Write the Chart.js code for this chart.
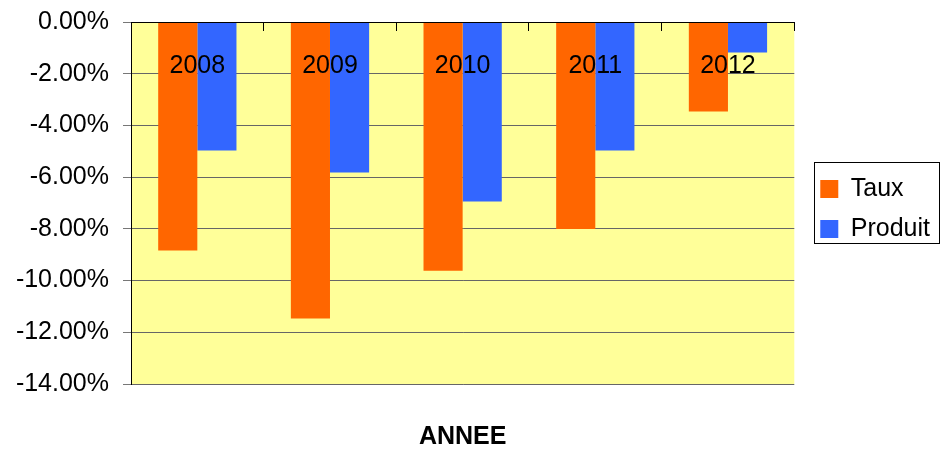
<!DOCTYPE html>
<html>
<head>
<meta charset="utf-8">
<script src="https://cdn.jsdelivr.net/npm/chart.js@4/dist/chart.umd.min.js"></script>
<style>
  html, body { margin: 0; padding: 0; background: #fff; }
  #wrap { width: 940px; height: 450px; }
</style>
</head>
<body>
<div id="wrap"><canvas id="graphique" width="940" height="450"></canvas></div>
<script>
const annees = ["2008", "2009", "2010", "2011", "2012"];
const taux = [-0.0884, -0.1147, -0.0962, -0.0801, -0.0346];
const produit = [-0.0497, -0.0582, -0.0694, -0.0497, -0.0118];
const ticksY = [0, -0.02, -0.04, -0.06, -0.08, -0.10, -0.12, -0.14];

const police = "'Liberation Sans', Arial, sans-serif";

// fond jaune de la zone de tracé
const fondZone = {
  id: "fondZone",
  beforeDraw(chart) {
    const { ctx, chartArea: a } = chart;
    ctx.save();
    ctx.fillStyle = "#FFFF99";
    ctx.fillRect(a.left, a.top, a.right - a.left, a.bottom - a.top);
    ctx.restore();
  },
};

// cadre autour de la légende
const cadreLegende = {
  id: "cadreLegende",
  afterDraw(chart) {
    const leg = chart.legend;
    if (!leg || !leg.legendHitBoxes || !leg.legendHitBoxes.length) return;
    const hb = leg.legendHitBoxes;
    const premier = hb[0];
    const dernier = hb[hb.length - 1];
    const x1 = Math.round(premier.left - 6) + 0.5;
    const x2 = Math.round(leg.right - 1) + 0.5;
    const y1 = Math.round(premier.top + premier.height / 2 - 27) + 0.5;
    const y2 = Math.round(dernier.top + dernier.height / 2 + 14) + 0.5;
    const ctx = chart.ctx;
    ctx.save();
    ctx.strokeStyle = "#000";
    ctx.lineWidth = 1;
    ctx.strokeRect(x1, y1, x2 - x1, y2 - y1);
    ctx.restore();
  },
};

const ctx = document.getElementById("graphique").getContext("2d");

new Chart(ctx, {
  type: "bar",
  data: {
    labels: annees,
    datasets: [
      { label: "Taux", data: taux, backgroundColor: "#FF6600" },
      { label: "Produit", data: produit, backgroundColor: "#3366FF" },
    ],
  },
  options: {
    responsive: false,
    animation: false,
    categoryPercentage: 0.59,
    barPercentage: 1.0,
    layout: { padding: { top: 22, right: 0, bottom: 0, left: 0 } },
    plugins: {
      tooltip: { enabled: false },
      legend: {
        position: "right",
        fullSize: false,
        // titre vide : décale les entrées de quelques pixels vers le bas
        title: { display: true, text: "", padding: 0, font: { size: 10 } },
        labels: {
          boxWidth: 18,
          boxHeight: 18,
          padding: 15,
          color: "#000",
          font: { family: police, size: 25 },
        },
      },
      title: {
        display: true,
        position: "bottom",
        fullSize: false,
        text: "ANNEE",
        color: "#000",
        padding: { top: 38, bottom: -2 },
        font: { family: police, size: 25, weight: "bold" },
      },
    },
    scales: {
      x: {
        type: "category",
        position: { y: 0 },
        offset: true,
        grid: {
          offset: true,
          drawOnChartArea: false,
          drawTicks: true,
          tickLength: 8,
          color: "#000",
          z: 1,
        },
        border: { display: true, color: "#000", width: 1, z: 1 },
        ticks: {
          color: "#000",
          padding: 21,
          maxRotation: 0,
          z: 1,
          font: { family: police, size: 25 },
        },
      },
      y: {
        min: -0.14,
        max: 0,
        afterFit(s) {
          s.width = 131;
          s.paddingTop = 0;
          s.paddingBottom = 0;
        },
        afterBuildTicks(s) { s.ticks = ticksY.map(v => ({ value: v })); },
        grid: { color: "#666", tickLength: 8, tickColor: "#777" },
        border: { display: true, color: "#000", width: 1 },
        ticks: {
          color: "#000",
          padding: 14,
          font: { family: police, size: 25 },
          callback: v => (v * 100).toFixed(2) + "%",
        },
      },
      espace: {
        type: "linear",
        position: "right",
        display: true,
        grid: { display: false },
        border: { display: false },
        ticks: { display: false },
        afterFit(s) { s.width = 11; },
      },
    },
  },
  plugins: [fondZone, cadreLegende],
});
</script>
</body>
</html>
